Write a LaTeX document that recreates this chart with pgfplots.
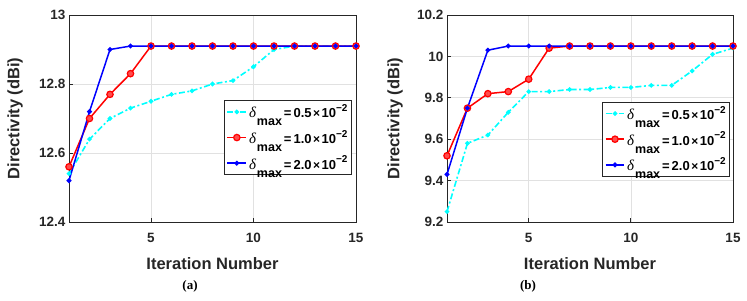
\documentclass[border=0pt]{standalone}
\usepackage{pgfplots}
\pgfplotsset{compat=1.18}
\usepackage{fontspec}
\setmainfont{Liberation Sans}
\newfontfamily\seriffont{Liberation Serif}

\definecolor{axgray}{RGB}{38,38,38}
\definecolor{gridgray}{RGB}{225,225,225}
\definecolor{lcyan}{RGB}{0,255,255}
\definecolor{lred}{RGB}{255,0,0}
\definecolor{lblue}{RGB}{0,0,255}

% legend entry text: delta_max = value x 10^-2
\newcommand{\dm}[1]{{\seriffont\mdseries\itshape\fontsize{15bp}{15bp}\selectfont δ}\hspace{1bp}\raisebox{-1.2ex}{\fontsize{12.5bp}{12.5bp}\selectfont max}\hspace{2bp}=\hspace{2bp}#1{\fontsize{12bp}{12bp}\selectfont\hspace{1.5bp}×\hspace{1.5bp}}10\raisebox{0.9ex}{\fontsize{10bp}{10bp}\selectfont −2}}

\pgfplotsset{
  dirstyle/.style={
    scale only axis,
    width=287bp, height=207bp,
    xmin=1, xmax=15,
    xtick={5,10,15},
    grid=major,
    major grid style={gridgray, line width=0.6bp},
    axis line style={axgray, line width=0.9bp},
    tick style={axgray, line width=0.8bp},
    tick align=inside,
    major tick length=4bp,
    xtick pos=bottom, ytick pos=left,
    /pgf/number format/assume math mode=true,
    ticklabel style={font=\fontsize{13.5bp}{13.5bp}\selectfont\bfseries, text=axgray},
    xticklabel style={yshift=-8bp},
    label style={font=\fontsize{16.5bp}{16.5bp}\selectfont\bfseries, text=axgray},
    xlabel={Iteration Number},
    ylabel={Directivity (dBi)},
    xlabel style={at={(axis description cs:0.5,0)}, anchor=center, yshift=-42bp},
    legend cell align=left,
    legend style={
      draw=axgray, line width=0.9bp, fill=white,
      font=\fontsize{13bp}{13bp}\selectfont\bfseries,
      inner sep=2bp, row sep=7bp,
      nodes={inner sep=2bp},
    },
    legend image code/.code={
      \draw[mark repeat=2,mark phase=2] plot coordinates {(0cm,0cm) (0.33cm,0cm) (0.66cm,0cm)};
    },
  },
  s1/.style={lcyan, line width=1.6bp, dash pattern=on 6bp off 2.5bp on 2bp off 2.5bp,
    mark=*, mark size=1.4bp, mark options={solid, fill=lcyan}},
  s2/.style={lred, line width=1.5bp, mark=*, mark size=3.2bp,
    mark options={solid, line width=1.2bp, draw=lred, fill=lred!70}},
  s3/.style={lblue, line width=1.5bp, mark=*, mark size=1.6bp, mark options={solid, fill=lblue}},
}

\begin{document}
\begin{tikzpicture}
\path (0bp,0bp) rectangle (747bp,301bp);

% ---------- (a) ----------
\begin{axis}[dirstyle, at={(69bp,79bp)}, anchor=south west,
  ymin=12.4, ymax=13, ytick={12.4,12.6,12.8,13},
  ylabel style={at={(axis description cs:0,0.5)}, anchor=center, yshift=54bp},
  legend style={at={(0.986,0.408)}, anchor=east}]
\addplot[s1] coordinates {(1,12.54) (2,12.64) (3,12.70) (4,12.73) (5,12.75) (6,12.77) (7,12.78) (8,12.80) (9,12.81) (10,12.85) (11,12.90) (12,12.91) (13,12.91) (14,12.91) (15,12.91)};
\addplot[s2] coordinates {(1,12.56) (2,12.70) (3,12.77) (4,12.83) (5,12.91) (6,12.91) (7,12.91) (8,12.91) (9,12.91) (10,12.91) (11,12.91) (12,12.91) (13,12.91) (14,12.91) (15,12.91)};
\addplot[s3] coordinates {(1,12.52) (2,12.72) (3,12.90) (4,12.91) (5,12.91) (6,12.91) (7,12.91) (8,12.91) (9,12.91) (10,12.91) (11,12.91) (12,12.91) (13,12.91) (14,12.91) (15,12.91)};
\legend{\dm{0.5},\dm{1.0},\dm{2.0}}
\end{axis}

% ---------- (b) ----------
\begin{axis}[dirstyle, at={(447bp,79bp)}, anchor=south west, width=286bp,
  ymin=9.2, ymax=10.2, ytick={9.2,9.4,9.6,9.8,10,10.2},
  ylabel style={at={(axis description cs:0,0.5)}, anchor=center, yshift=52bp},
  legend style={at={(0.99,0.40)}, anchor=east}]
\addplot[s1] coordinates {(1,9.25) (2,9.58) (3,9.62) (4,9.73) (5,9.83) (6,9.83) (7,9.84) (8,9.84) (9,9.85) (10,9.85) (11,9.86) (12,9.86) (13,9.93) (14,10.01) (15,10.04)};
\addplot[s2] coordinates {(1,9.52) (2,9.75) (3,9.82) (4,9.83) (5,9.89) (6,10.04) (7,10.05) (8,10.05) (9,10.05) (10,10.05) (11,10.05) (12,10.05) (13,10.05) (14,10.05) (15,10.05)};
\addplot[s3] coordinates {(1,9.43) (2,9.75) (3,10.03) (4,10.05) (5,10.05) (6,10.05) (7,10.05) (8,10.05) (9,10.05) (10,10.05) (11,10.05) (12,10.05) (13,10.05) (14,10.05) (15,10.05)};
\legend{\dm{0.5},\dm{1.0},\dm{2.0}}
\end{axis}

% sub-figure captions
\node[font=\seriffont\bfseries\fontsize{13bp}{13bp}\selectfont] at (190bp,15bp) {(a)};
\node[font=\seriffont\bfseries\fontsize{13bp}{13bp}\selectfont] at (528bp,15bp) {(b)};
\end{tikzpicture}
\end{document}
